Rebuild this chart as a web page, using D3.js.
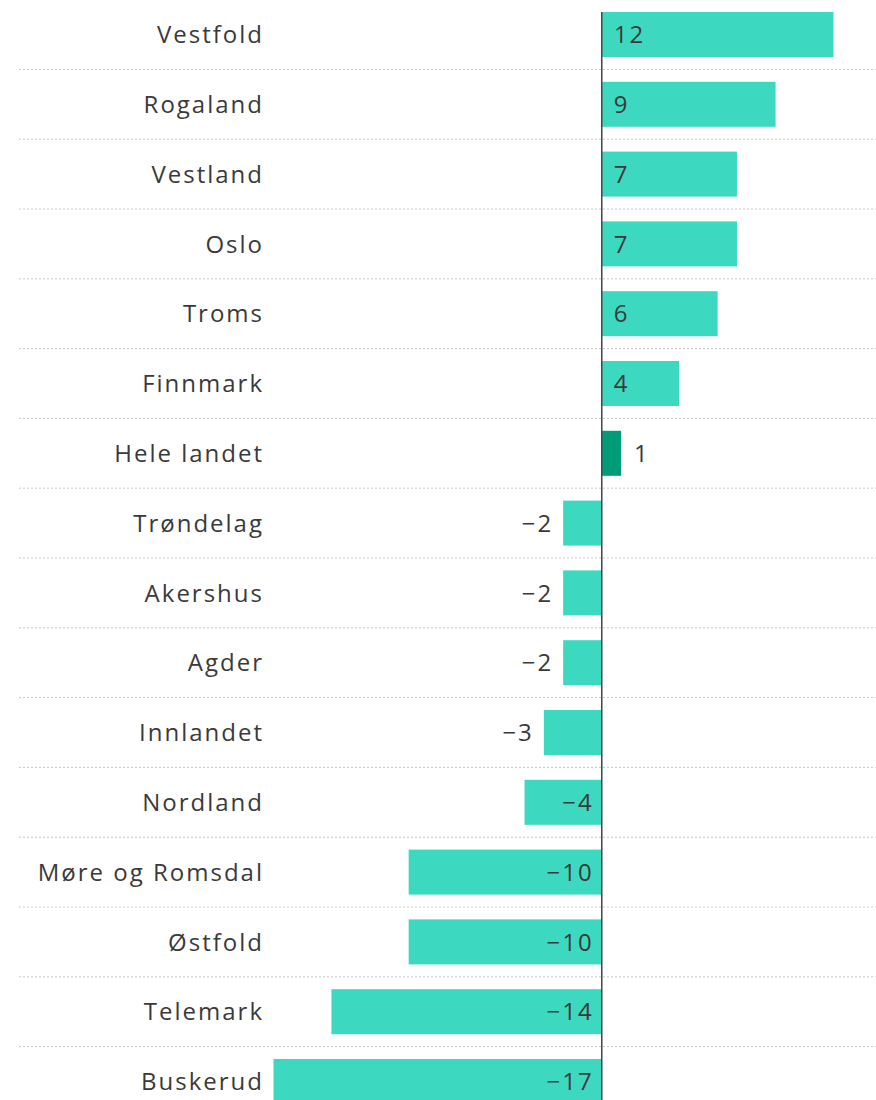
<!DOCTYPE html>
<html>
<head>
<meta charset="utf-8">
<script src="https://cdn.jsdelivr.net/npm/d3@7"></script>
<style>
  body { margin: 0; background: #fff; }
  svg text { font-family: "Open Sans", "Noto Sans", sans-serif; fill: #3a3a3a; letter-spacing: 2px; }
</style>
</head>
<body>
<div id="chart"></div>
<script>
// regions, in display order
let regions = ["Vestfold", "Rogaland", "Vestland", "Oslo", "Troms", "Finnmark", "Hele landet",
    "Trøndelag", "Akershus", "Agder", "Innlandet", "Nordland", "Møre og Romsdal", "Østfold",
    "Telemark", "Buskerud"];
let values = [12, 9, 7, 7, 6, 4, 1, -2, -2, -2, -3, -4, -10, -10, -14, -17];
let highlight = ["Hele landet"];

let width = 876, height = 1100;
let rowStep = 69.8, barTop = 12;

let svg = d3.select("#chart").append("svg")
    .attr("width", width)
    .attr("height", height);

let x = d3.scaleLinear()
    .domain([-17, 12])
    .range([273.5, 833.5]);

let y = d3.scaleBand()
    .domain(regions)
    .range([barTop - (rowStep - 45) / 2, barTop - (rowStep - 45) / 2 + rowStep * regions.length])
    .paddingInner(24.8 / rowStep)
    .paddingOuter(12.4 / rowStep);

let data = regions.map(function(r, i) { return {name: r, value: values[i]}; });

// dotted separators
svg.selectAll(".sep")
    .data(regions)
    .enter()
    .append("line")
    .attr("class", "sep")
    .attr("x1", 19)
    .attr("x2", width)
    .attr("y1", function(d) { return y(d) + y.bandwidth() + 12.4; })
    .attr("y2", function(d) { return y(d) + y.bandwidth() + 12.4; })
    .style("stroke", "#c8c8c8")
    .style("stroke-width", 1)
    .style("stroke-dasharray", "2,2");

// bars
svg.selectAll(".bar")
    .data(data)
    .enter()
    .append("rect")
    .attr("class", "bar")
    .attr("x", function(d) { return x(Math.min(0, d.value)); })
    .attr("width", function(d) { return Math.abs(x(d.value) - x(0)); })
    .attr("y", function(d) { return y(d.name); })
    .attr("height", y.bandwidth())
    .style("fill", function(d) { return highlight.includes(d.name) ? "#009b77" : "#3cd9c0"; });

// category labels (letter-spacing trails the last glyph, so nudge right)
svg.selectAll(".cat")
    .data(data)
    .enter()
    .append("text")
    .attr("class", "cat")
    .attr("x", 264)
    .attr("y", function(d) { return y(d.name) + y.bandwidth() / 2; })
    .attr("dy", "0.36em")
    .attr("text-anchor", "end")
    .style("font-size", "24px")
    .text(function(d) { return d.name; });

// value labels
let fmt = function(v) { return v < 0 ? "\u2212" + Math.abs(v) : String(v); };
svg.selectAll(".val")
    .data(data)
    .enter()
    .append("text")
    .attr("class", "val")
    .attr("y", function(d) { return y(d.name) + y.bandwidth() / 2; })
    .attr("dy", "0.36em")
    .style("font-size", "24px")
    .each(function(d) {
        let len = Math.abs(x(d.value) - x(0));
        let el = d3.select(this);
        if (d.value >= 0) {
            if (len > 40) el.attr("x", x(0) + 12).attr("text-anchor", "start");
            else el.attr("x", x(d.value) + 13).attr("text-anchor", "start");
        } else {
            if (len > 70) el.attr("x", x(0) - 8).attr("text-anchor", "end");
            else el.attr("x", x(d.value) - 10).attr("text-anchor", "end");
        }
    })
    .text(function(d) { return fmt(d.value); });

// zero line
svg.append("line")
    .attr("x1", x(0))
    .attr("x2", x(0))
    .attr("y1", barTop)
    .attr("y2", height)
    .style("stroke", "#444")
    .style("stroke-width", 1.5);
</script>
</body>
</html>
